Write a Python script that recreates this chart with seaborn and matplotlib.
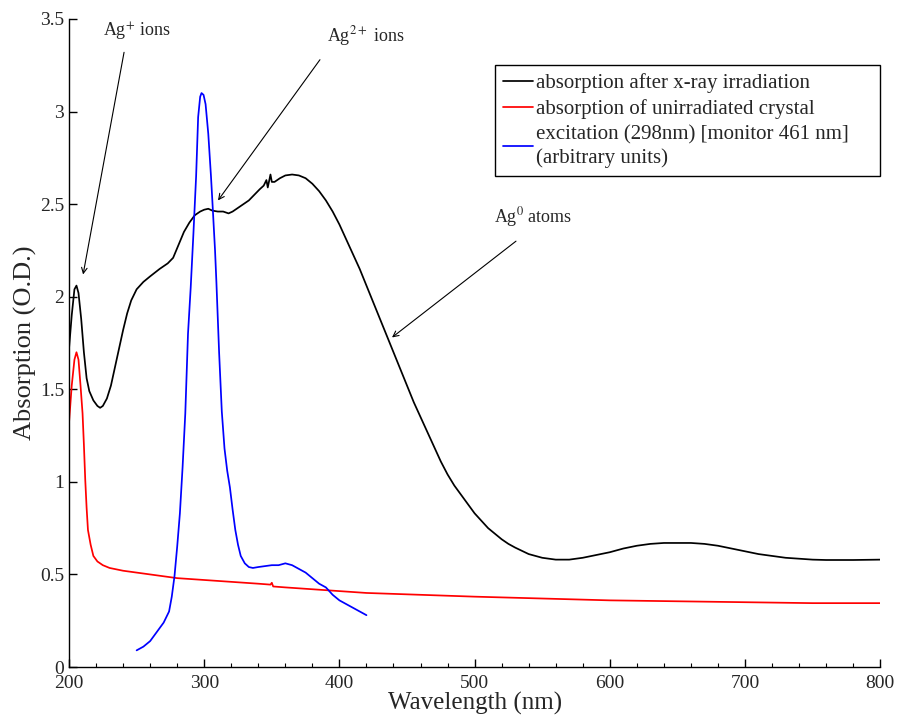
import numpy as np
import pandas as pd
import seaborn as sns
import matplotlib.pyplot as plt
from matplotlib.ticker import MultipleLocator, FuncFormatter

# absorption after x-ray irradiation
irr_nm = [200, 202, 204, 205.5, 207, 209, 211, 213, 215, 218, 221, 223, 225, 228, 231, 234, 237, 240,
          243, 246, 250, 255, 260, 267, 273, 277, 281, 285, 289, 293, 297, 300, 303, 306, 310, 314,
          318, 321, 325, 329, 333, 337, 341, 344, 346, 347, 349, 350, 352, 356, 360, 365, 370, 375,
          380, 385, 390, 395, 400, 405, 410, 415, 420, 425, 430, 435, 440, 445, 450, 455, 460, 465,
          470, 475, 480, 485, 490, 495, 500, 505, 510, 515, 520, 525, 530, 540, 550, 560, 570, 580,
          590, 600, 610, 620, 630, 640, 650, 660, 670, 680, 690, 700, 710, 720, 730, 740, 750, 760,
          780, 800]
irr_abs = [1.72, 1.90, 2.04, 2.06, 2.02, 1.88, 1.70, 1.56, 1.49, 1.44, 1.41, 1.40, 1.41, 1.45, 1.52,
           1.62, 1.72, 1.82, 1.91, 1.98, 2.04, 2.08, 2.11, 2.15, 2.18, 2.21, 2.28, 2.35, 2.40, 2.44,
           2.46, 2.47, 2.475, 2.465, 2.46, 2.46, 2.45, 2.46, 2.48, 2.50, 2.52, 2.55, 2.58, 2.60, 2.63,
           2.59, 2.66, 2.62, 2.62, 2.64, 2.655, 2.66, 2.655, 2.64, 2.61, 2.57, 2.52, 2.46, 2.39, 2.31,
           2.23, 2.15, 2.06, 1.97, 1.88, 1.79, 1.70, 1.61, 1.52, 1.43, 1.35, 1.27, 1.19, 1.11, 1.04,
           0.98, 0.93, 0.88, 0.83, 0.79, 0.75, 0.72, 0.69, 0.665, 0.645, 0.61, 0.59, 0.58, 0.58, 0.59,
           0.605, 0.62, 0.64, 0.655, 0.665, 0.67, 0.67, 0.67, 0.665, 0.655, 0.64, 0.625, 0.61, 0.60,
           0.59, 0.585, 0.58, 0.578, 0.578, 0.58]

# absorption of unirradiated crystal
unirr_nm = [200, 202, 204, 205.5, 207, 208.5, 210, 211, 212, 213, 214, 216, 218, 221, 225, 230, 240,
            250, 260, 270, 280, 290, 300, 310, 320, 330, 340, 349, 350, 351, 360, 380, 400, 420, 440,
            460, 500, 550, 600, 650, 700, 750, 800]
unirr_abs = [1.32, 1.52, 1.66, 1.70, 1.66, 1.52, 1.37, 1.20, 1.01, 0.86, 0.74, 0.66, 0.60, 0.57, 0.55,
             0.535, 0.52, 0.51, 0.50, 0.49, 0.48, 0.475, 0.47, 0.465, 0.46, 0.455, 0.45, 0.445, 0.455,
             0.435, 0.43, 0.42, 0.41, 0.40, 0.395, 0.39, 0.38, 0.37, 0.36, 0.355, 0.35, 0.345, 0.345]

# excitation spectrum (arbitrary units)
exc_nm = [250, 255, 260, 265, 270, 274, 276, 278, 280, 282, 284, 286, 288, 290, 292, 294, 295.5, 297,
          298, 299.5, 301, 303, 305, 306, 308, 309, 311, 313, 315, 317, 319, 321, 323, 325, 327, 330,
          333, 336, 340, 345, 350, 355, 360, 365, 370, 375, 380, 385, 390, 395, 400, 405, 410, 415, 420]
exc_val = [0.09, 0.11, 0.14, 0.19, 0.24, 0.30, 0.38, 0.49, 0.65, 0.83, 1.08, 1.37, 1.80, 2.05, 2.34,
           2.65, 2.97, 3.08, 3.10, 3.09, 3.04, 2.88, 2.65, 2.52, 2.25, 2.08, 1.70, 1.38, 1.18, 1.06,
           0.97, 0.85, 0.74, 0.66, 0.60, 0.56, 0.54, 0.535, 0.54, 0.545, 0.55, 0.55, 0.56, 0.55, 0.53,
           0.51, 0.48, 0.45, 0.43, 0.39, 0.36, 0.34, 0.32, 0.30, 0.28]

labels = ["absorption after x-ray irradiation",
          "absorption of unirradiated crystal",
          "excitation (298nm) [monitor 461 nm]\n(arbitrary units)"]
colors = ["black", "#ff0000", "#0000ff"]

df = pd.concat([
    pd.DataFrame({"nm": irr_nm, "val": irr_abs, "series": labels[0]}),
    pd.DataFrame({"nm": unirr_nm, "val": unirr_abs, "series": labels[1]}),
    pd.DataFrame({"nm": exc_nm, "val": exc_val, "series": labels[2]}),
])

sns.set_style("ticks")
plt.rcParams['font.family'] = ['Liberation Serif', 'DejaVu Serif']
plt.rcParams['mathtext.fontset'] = 'stix'

fig = plt.figure(figsize=(9, 7.19), dpi=100)
ax = fig.add_axes([0.0767, 0.0723, 0.9013, 0.9013])

sns.lineplot(data=df, x="nm", y="val", hue="series", palette=dict(zip(labels, colors)),
             sort=False, estimator=None, linewidth=1.25, ax=ax)

ax.set_xlim(200, 800)
ax.set_ylim(0, 3.5)
ax.xaxis.set_major_locator(MultipleLocator(100))
ax.xaxis.set_minor_locator(MultipleLocator(20))
ax.yaxis.set_major_locator(MultipleLocator(0.5))
ax.yaxis.set_major_formatter(FuncFormatter(lambda v, p: f"{v:g}"))
ax.tick_params(which="both", direction="in", labelsize=14, color="black")
ax.tick_params(which="major", length=6, width=1)
ax.tick_params(axis="x", which="major", pad=6)
ax.tick_params(which="minor", length=3, width=0.8)
for s in ["top", "right"]:
    ax.spines[s].set_visible(False)
for s in ["left", "bottom"]:
    ax.spines[s].set_color("black")
    ax.spines[s].set_linewidth(1)

ax.set_xlabel("Wavelength (nm)", fontsize=18, labelpad=0)
ax.set_ylabel("Absorption (O.D.)", fontsize=19, labelpad=2)

# legend box spans a fixed width like the original (content left-aligned)
leg = ax.legend(loc="upper left", bbox_to_anchor=(0.525, 0.3, 0.475, 0.629), mode="expand",
                borderaxespad=0, fancybox=False, edgecolor="black", fontsize=15,
                handlelength=1.45, handletextpad=0.1, borderpad=0.4, labelspacing=0.3,
                framealpha=1)
leg.get_frame().set_linewidth(1)

arrow = dict(arrowstyle="->", color="black", lw=0.8, shrinkA=0, shrinkB=0)
ax.annotate("", xy=(210.4, 2.12), xytext=(240.7, 3.32), arrowprops=arrow)
ax.text(250.3, 3.43, r"Ag$^{+}$ ions", fontsize=13, ha="center", va="center")
ax.annotate("", xy=(310.2, 2.52), xytext=(385.6, 3.28), arrowprops=arrow)
ax.text(419.7, 3.41, r"Ag$^{2+}$ ions", fontsize=13, ha="center", va="center")
ax.annotate("", xy=(438.9, 1.78), xytext=(530.6, 2.30), arrowprops=arrow)
ax.text(543, 2.43, r"Ag$^{0}$ atoms", fontsize=13, ha="center", va="center")

fig.savefig("out.png", dpi=100)
